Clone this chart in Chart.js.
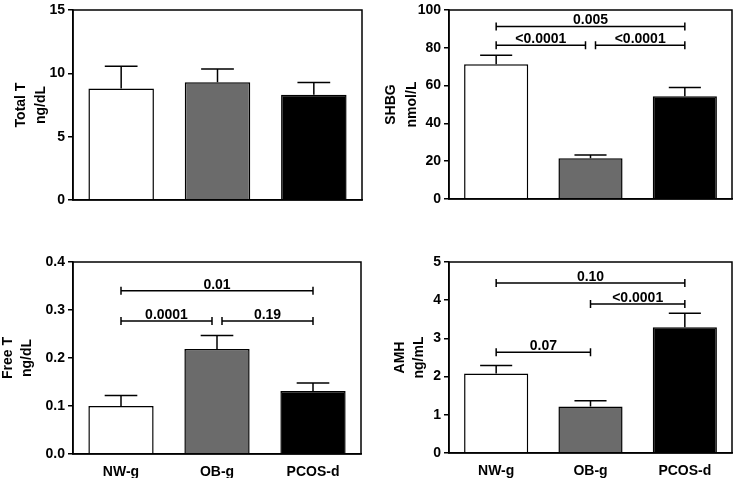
<!DOCTYPE html>
<html>
<head>
<meta charset="utf-8">
<script src="https://cdn.jsdelivr.net/npm/chart.js@4.4.0/dist/chart.umd.min.js"></script>
<style>
  html, body { margin: 0; padding: 0; background: #fff; }
  body { width: 739px; height: 478px; position: relative; overflow: hidden; }
  canvas { position: absolute; }
</style>
</head>
<body>
<canvas id="c1" width="370" height="240" style="left:0;top:0"></canvas>
<canvas id="c2" width="369" height="240" style="left:370px;top:0"></canvas>
<canvas id="c3" width="370" height="238" style="left:0;top:240px"></canvas>
<canvas id="c4" width="369" height="238" style="left:370px;top:240px"></canvas>
<script>
// ---------- DATA ----------
const groups = ['NW-g', 'OB-g', 'PCOS-d'];

const totalT    = [8.8, 9.3, 8.3];
const totalTErr = [1.75, 1.05, 0.97];
const totalTTicks = [0, 5, 10, 15];
const totalTTickLabels = ['0', '5', '10', '15'];
const totalTBrackets = [];

const shbg    = [71.3, 21.5, 54.4];
const shbgErr = [4.7, 1.8, 4.6];
const shbgTicks = [0, 20, 40, 60, 80, 100];
const shbgTickLabels = ['0', '20', '40', '60', '80', '100'];
const shbgBrackets = [
  { from: 0, to: 2, y: 91.3, label: '0.005' },
  { from: 0, to: 1, y: 81.4, label: '<0.0001' },
  { from: 1, to: 2, y: 81.4, label: '<0.0001' }
];

const freeT    = [0.100, 0.219, 0.131];
const freeTErr = [0.022, 0.028, 0.017];
const freeTTicks = [0, 0.1, 0.2, 0.3, 0.4];
const freeTTickLabels = ['0.0', '0.1', '0.2', '0.3', '0.4'];
const freeTBrackets = [
  { from: 0, to: 2, y: 0.340, label: '0.01' },
  { from: 0, to: 1, y: 0.277, label: '0.0001' },
  { from: 1, to: 2, y: 0.277, label: '0.19' }
];

const amh    = [2.08, 1.22, 3.29];
const amhErr = [0.21, 0.15, 0.37];
const amhTicks = [0, 1, 2, 3, 4, 5];
const amhTickLabels = ['0', '1', '2', '3', '4', '5'];
const amhBrackets = [
  { from: 0, to: 2, y: 4.45, label: '0.10' },
  { from: 1, to: 2, y: 3.90, label: '<0.0001' },
  { from: 0, to: 1, y: 2.64, label: '0.07' }
];

// ---------- STYLE ----------
const FONT = "'Liberation Sans', Arial, Helvetica, sans-serif";
const barColors = ['#ffffff', '#6b6b6b', '#000000'];
const LW = 1.5;

const framePlugin = {
  id: 'frame',
  afterDraw(chart) {
    const { ctx, chartArea: a } = chart;
    ctx.save();
    ctx.strokeStyle = '#000';
    ctx.lineWidth = LW;
    ctx.strokeRect(a.left, a.top, a.right - a.left, a.bottom - a.top);
    ctx.restore();
  }
};

const extrasPlugin = {
  id: 'extras',
  afterDatasetsDraw(chart, args, opts) {
    const { ctx } = chart;
    const xs = chart.scales.x, ys = chart.scales.y;
    const meta = chart.getDatasetMeta(0);
    const vals = chart.data.datasets[0].data;
    ctx.save();
    ctx.strokeStyle = '#000';
    ctx.lineWidth = LW;
    // error bars (upper only)
    meta.data.forEach((bar, i) => {
      const top = ys.getPixelForValue(vals[i] + opts.errors[i]);
      const cap = bar.width / 4;
      ctx.beginPath();
      ctx.moveTo(bar.x, bar.y);
      ctx.lineTo(bar.x, top);
      ctx.moveTo(bar.x - cap, top);
      ctx.lineTo(bar.x + cap, top);
      ctx.stroke();
    });
    // significance brackets
    const br = opts.brackets;
    br.forEach((b) => {
      let x1 = xs.getPixelForValue(b.from);
      let x2 = xs.getPixelForValue(b.to);
      if (br.some(o => o !== b && o.y === b.y && o.to === b.from)) x1 += 5;
      if (br.some(o => o !== b && o.y === b.y && o.from === b.to)) x2 -= 5;
      const y = ys.getPixelForValue(b.y);
      ctx.beginPath();
      ctx.moveTo(x1, y); ctx.lineTo(x2, y);
      ctx.moveTo(x1, y - 4); ctx.lineTo(x1, y + 4);
      ctx.moveTo(x2, y - 4); ctx.lineTo(x2, y + 4);
      ctx.stroke();
      ctx.fillStyle = '#000';
      ctx.font = 'bold 14px ' + FONT;
      ctx.textAlign = 'center';
      ctx.textBaseline = 'alphabetic';
      ctx.fillText(b.label, (x1 + x2) / 2, y - 2);
    });
    // y-axis title (two lines, rotated)
    const a = chart.chartArea;
    const cy = (a.top + a.bottom) / 2;
    ctx.fillStyle = '#000';
    ctx.font = 'bold 14px ' + FONT;
    ctx.textAlign = 'center';
    ctx.textBaseline = 'middle';
    opts.title.forEach((t, k) => {
      ctx.save();
      ctx.translate(opts.titleX[k], cy);
      ctx.rotate(-Math.PI / 2);
      ctx.fillText(t, 0, 0);
      ctx.restore();
    });
    ctx.restore();
  }
};

function makeChart(id, cfg) {
  return new Chart(document.getElementById(id), {
    type: 'bar',
    data: {
      labels: groups,
      datasets: [{
        data: cfg.values,
        backgroundColor: barColors,
        borderColor: '#000',
        borderWidth: LW,
        categoryPercentage: 1,
        barPercentage: 0.68
      }]
    },
    options: {
      responsive: false,
      animation: false,
      devicePixelRatio: 1,
      layout: { padding: { left: 0, top: cfg.top, right: cfg.right, bottom: 0 } },
      plugins: {
        legend: { display: false },
        tooltip: { enabled: false },
        extras: { errors: cfg.errors, brackets: cfg.brackets, title: cfg.title, titleX: cfg.titleX }
      },
      scales: {
        x: {
          grid: { display: false, drawTicks: false },
          border: { display: true, color: '#000', width: LW },
          ticks: {
            display: cfg.showX,
            color: '#000',
            padding: 11,
            maxRotation: 0,
            font: { family: FONT, size: 14, weight: 'bold', lineHeight: 1 }
          },
          afterFit(s) { s.height = cfg.xh; }
        },
        y: {
          min: cfg.ticks[0],
          max: cfg.ticks[cfg.ticks.length - 1],
          afterBuildTicks(s) { s.ticks = cfg.ticks.map(v => ({ value: v })); },
          grid: { drawOnChartArea: false, drawTicks: true, tickLength: 5, color: '#000', lineWidth: LW },
          border: { display: true, color: '#000', width: LW },
          ticks: {
            color: '#000',
            padding: 3,
            font: { family: FONT, size: 14, weight: 'bold', lineHeight: 1 },
            callback(v, i) { return cfg.tickLabels[i]; }
          },
          afterFit(s) { s.width = cfg.yw; }
        }
      }
    },
    plugins: [framePlugin, extrasPlugin]
  });
}

makeChart('c1', {
  values: totalT, errors: totalTErr, brackets: totalTBrackets,
  ticks: totalTTicks, tickLabels: totalTTickLabels,
  title: ['Total T', 'ng/dL'], titleX: [21, 41.5],
  top: 8, right: 8, yw: 73, xh: 40, showX: false
});
makeChart('c2', {
  values: shbg, errors: shbgErr, brackets: shbgBrackets,
  ticks: shbgTicks, tickLabels: shbgTickLabels,
  title: ['SHBG', 'nmol/L'], titleX: [21.3, 42],
  top: 7, right: 7, yw: 79, xh: 41, showX: false
});
makeChart('c3', {
  values: freeT, errors: freeTErr, brackets: freeTBrackets,
  ticks: freeTTicks, tickLabels: freeTTickLabels,
  title: ['Free T', 'ng/dL'], titleX: [8.3, 27.5],
  top: 22, right: 9, yw: 73, xh: 24, showX: true
});
makeChart('c4', {
  values: amh, errors: amhErr, brackets: amhBrackets,
  ticks: amhTicks, tickLabels: amhTickLabels,
  title: ['AMH', 'ng/mL'], titleX: [30, 49.5],
  top: 22, right: 7, yw: 79, xh: 25, showX: true
});
</script>
</body>
</html>
